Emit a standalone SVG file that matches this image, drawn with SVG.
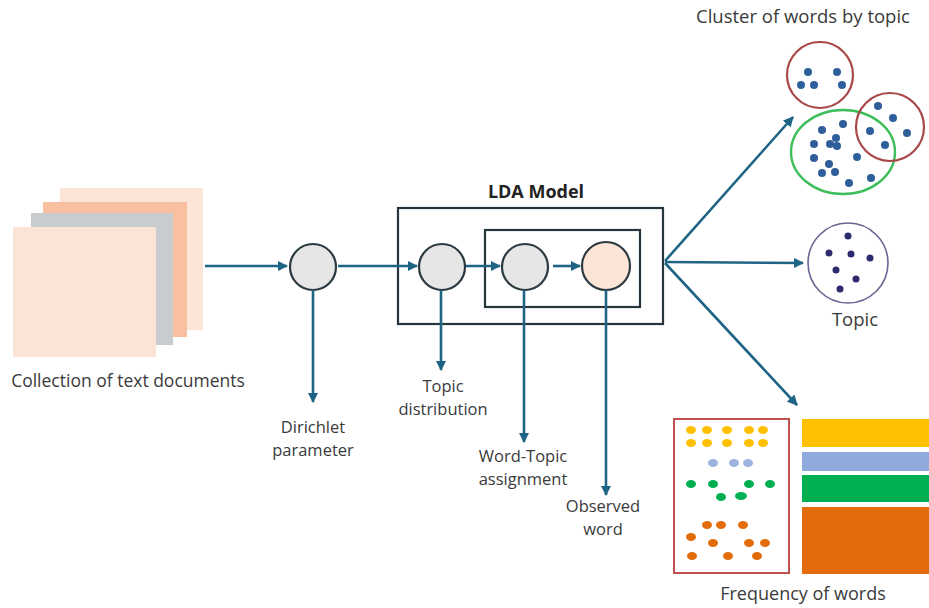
<svg xmlns="http://www.w3.org/2000/svg" width="929" height="608" viewBox="0 0 929 608">
<defs>
<marker id="ah" viewBox="0 0 10 10" refX="9" refY="5" markerWidth="4" markerHeight="4" orient="auto" markerUnits="strokeWidth">
<path d="M0,0 L10,5 L0,10 z" fill="#1F6485"/>
</marker>
</defs>
<style>
.t{font-family:"Open Sans","Liberation Sans",sans-serif;font-size:16.5px;fill:#3a3a3a;text-anchor:middle}
.c{stroke:#1F6485;stroke-width:2.6;fill:none;marker-end:url(#ah)}
.n{fill:#E6E6E6;stroke:#2b3a40;stroke-width:2.2}
.box{fill:none;stroke:#26363c;stroke-width:2.2}
.bd{fill:#2F5F9A}
.nd{fill:#2B2B6E}
</style>
<rect width="929" height="608" fill="#fff"/>
<g id="documents">
<rect x="60" y="188" width="143" height="142" fill="#FCE4D6"/>
<rect x="43" y="202" width="144" height="135" fill="#F8BFA0"/>
<rect x="31" y="213" width="142" height="132" fill="#C9CCCE"/>
<rect x="13" y="227" width="143" height="130" fill="#FBE3D6"/>
<text class="t" x="128" y="387" style="font-size:17.5px">Collection of text documents</text>
</g>
<g id="lda-model">
<rect class="box" x="398" y="208" width="265" height="116"/>
<rect class="box" x="485" y="230" width="155" height="77"/>
<text class="t" x="536" y="198" style="font-weight:bold;fill:#222;font-size:18px">LDA Model</text>
</g>
<g id="dirichlet">
<circle class="n" cx="313" cy="267" r="23"/>
<text class="t" x="313" y="433">Dirichlet</text>
<text class="t" x="313" y="456">parameter</text>
</g>
<g id="topic-distribution">
<circle class="n" cx="442" cy="267" r="23"/>
<text class="t" x="443" y="392">Topic</text>
<text class="t" x="443" y="415">distribution</text>
</g>
<g id="word-topic">
<circle class="n" cx="525" cy="267" r="23"/>
<text class="t" x="523" y="462">Word-Topic</text>
<text class="t" x="523" y="485">assignment</text>
</g>
<g id="observed-word">
<circle cx="606" cy="266" r="24" fill="#FCE4D6" stroke="#2b3a40" stroke-width="2.2"/>
<text class="t" x="603" y="512">Observed</text>
<text class="t" x="603" y="535">word</text>
</g>
<g id="connectors">
<line class="c" x1="205" y1="266" x2="287" y2="266"/>
<line class="c" x1="338" y1="266" x2="417" y2="266"/>
<line class="c" x1="466" y1="266" x2="500" y2="266"/>
<line class="c" x1="553" y1="266" x2="580" y2="266"/>
<line class="c" x1="313" y1="290" x2="313" y2="402"/>
<line class="c" x1="441" y1="290" x2="441" y2="370"/>
<line class="c" x1="524" y1="290" x2="524" y2="442"/>
<line class="c" x1="606" y1="290" x2="606" y2="495"/>
<line class="c" x1="665" y1="261" x2="793" y2="117"/>
<line class="c" x1="665" y1="262" x2="803" y2="263"/>
<line class="c" x1="665" y1="263" x2="797" y2="405"/>
</g>
<g id="cluster">
<text class="t" x="803" y="23" style="font-size:18.5px">Cluster of words by topic</text>
<circle cx="820" cy="75" r="33" fill="none" stroke="#A84848" stroke-width="2.2"/>
<ellipse cx="843" cy="152" rx="52" ry="42" fill="none" stroke="#3DBE5A" stroke-width="2.4"/>
<circle cx="890" cy="127" r="34" fill="none" stroke="#A84848" stroke-width="2.2"/>
<g class="bd">
<circle cx="808" cy="72" r="4"/><circle cx="837" cy="72" r="4"/><circle cx="801" cy="85" r="4"/><circle cx="814" cy="85" r="4"/><circle cx="842" cy="85" r="4"/>
<circle cx="843" cy="124" r="4"/><circle cx="822" cy="130" r="4"/><circle cx="814" cy="144" r="4"/><circle cx="830" cy="144" r="4"/><circle cx="836" cy="138" r="4"/><circle cx="837" cy="146" r="4"/><circle cx="814" cy="158" r="4"/><circle cx="829" cy="164" r="4"/><circle cx="822" cy="173" r="4"/><circle cx="835" cy="172" r="4"/><circle cx="857" cy="157" r="4"/><circle cx="871" cy="178" r="4"/><circle cx="849" cy="183" r="4"/>
<circle cx="878" cy="106" r="4"/><circle cx="893" cy="118" r="4"/><circle cx="870" cy="131" r="4"/><circle cx="907" cy="133" r="4"/><circle cx="885" cy="145" r="4"/>
</g>
</g>
<g id="topic">
<circle cx="848" cy="263" r="40" fill="none" stroke="#6B6393" stroke-width="1.6"/>
<g class="nd">
<circle cx="848" cy="236" r="3.5"/><circle cx="829" cy="253" r="3.5"/><circle cx="851" cy="254" r="3.5"/><circle cx="870" cy="258" r="3.5"/><circle cx="836" cy="270" r="3.5"/><circle cx="856" cy="279" r="3.5"/><circle cx="840" cy="289" r="3.5"/>
</g>
<text class="t" x="855" y="326" style="font-size:18.5px">Topic</text>
</g>
<g id="frequency">
<rect x="674" y="419" width="115" height="154" fill="none" stroke="#C0504D" stroke-width="2"/>
<rect x="802" y="419" width="127" height="28" fill="#FFC000"/>
<rect x="802" y="452" width="127" height="19" fill="#8FAADC"/>
<rect x="802" y="475" width="127" height="27" fill="#00B050"/>
<rect x="802" y="507" width="127" height="67" fill="#E36C0A"/>
<g fill="#FFC000">
<ellipse cx="691" cy="430" rx="5" ry="4"/><ellipse cx="707" cy="430" rx="5" ry="4"/><ellipse cx="727" cy="430" rx="5" ry="4"/><ellipse cx="749" cy="430" rx="5" ry="4"/><ellipse cx="763" cy="430" rx="5" ry="4"/>
<ellipse cx="691" cy="443" rx="5" ry="4"/><ellipse cx="707" cy="443" rx="5" ry="4"/><ellipse cx="727" cy="443" rx="5" ry="4"/><ellipse cx="749" cy="443" rx="5" ry="4"/><ellipse cx="763" cy="443" rx="5" ry="4"/>
</g>
<g fill="#9DB3DD">
<ellipse cx="713" cy="463" rx="5" ry="4"/><ellipse cx="734" cy="463" rx="5" ry="4"/><ellipse cx="748" cy="463" rx="5" ry="4"/>
</g>
<g fill="#00B050">
<ellipse cx="691" cy="484" rx="5" ry="4"/><ellipse cx="713" cy="484" rx="5" ry="4"/><ellipse cx="749" cy="484" rx="5" ry="4"/><ellipse cx="770" cy="484" rx="5" ry="4"/>
<ellipse cx="721" cy="497" rx="5" ry="4"/><ellipse cx="741" cy="496" rx="6" ry="4"/>
</g>
<g fill="#E36C0A">
<ellipse cx="707" cy="525" rx="5" ry="4"/><ellipse cx="721" cy="525" rx="5" ry="4"/><ellipse cx="743" cy="525" rx="5" ry="4"/>
<ellipse cx="691" cy="537" rx="5" ry="4"/>
<ellipse cx="713" cy="543" rx="5" ry="4"/><ellipse cx="749" cy="543" rx="5" ry="4"/><ellipse cx="765" cy="543" rx="5" ry="4"/>
<ellipse cx="692" cy="556" rx="5" ry="4"/><ellipse cx="728" cy="556" rx="5" ry="4"/><ellipse cx="757" cy="556" rx="5" ry="4"/>
</g>
<text class="t" x="803" y="600" style="font-size:18px">Frequency of words</text>
</g>
</svg>
